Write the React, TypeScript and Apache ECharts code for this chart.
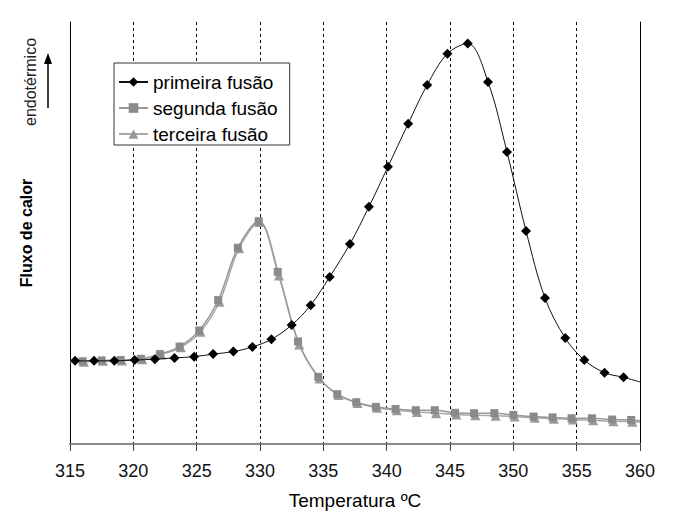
import React, { useEffect, useRef } from "react";
import * as echarts from "echarts";

const xTicks = [315, 320, 325, 330, 335, 340, 345, 350, 355, 360];

const primeiraT = [315.4, 316.9, 318.5, 320.1, 321.7, 323.25, 324.8, 326.3, 327.9, 329.4, 330.9, 332.5, 334.0, 335.5, 337.1, 338.6, 340.1, 341.7, 343.2, 344.8, 346.4, 348.0, 349.5, 351.0, 352.5, 354.1, 355.6, 357.2, 358.7];
const primeiraV = [19.7, 19.7, 19.7, 19.9, 20.1, 20.4, 20.7, 21.3, 21.9, 23.0, 24.8, 28.2, 32.9, 39.6, 47.4, 56.2, 65.7, 75.9, 85.1, 92.5, 94.9, 85.8, 69.2, 50.5, 34.6, 25.1, 19.9, 16.9, 15.8];
const primeiraEnds = [[315, 19.7], [360, 14.7]];

const segundaT = [316.0, 317.5, 319.0, 320.6, 322.1, 323.65, 325.2, 326.7, 328.25, 329.9, 331.4, 333.0, 334.6, 336.1, 337.6, 339.15, 340.7, 342.3, 343.8, 345.4, 346.9, 348.5, 350.0, 351.6, 353.1, 354.6, 356.2, 357.8, 359.3];
const segundaV = [19.6, 19.8, 19.9, 20.2, 21.3, 23.1, 26.9, 34.1, 46.5, 52.8, 40.8, 24.3, 15.9, 11.8, 9.9, 8.8, 8.3, 8.0, 8.0, 7.4, 7.3, 7.3, 6.9, 6.5, 6.3, 6.1, 6.1, 5.8, 5.7];
const segundaEnds = [[315, 19.6], [360, 5.5]];

const terceiraT = [316.1, 317.6, 319.1, 320.7, 322.2, 323.75, 325.3, 326.8, 328.35, 329.95, 331.5, 333.1, 334.7, 336.2, 337.7, 339.25, 340.8, 342.4, 343.9, 345.5, 347.0, 348.6, 350.1, 351.7, 353.2, 354.7, 356.3, 357.9, 359.4];
const terceiraV = [19.5, 19.7, 19.8, 20.1, 21.2, 22.9, 26.6, 33.7, 46.4, 52.6, 39.9, 23.6, 15.5, 11.6, 9.7, 8.6, 8.0, 7.6, 7.3, 7.0, 6.8, 6.7, 6.5, 6.2, 6.0, 5.8, 5.6, 5.4, 5.3];
const terceiraEnds = [[315, 19.5], [360, 5.2]];

const seriesNames = ["primeira fusão", "segunda fusão", "terceira fusão"];
const FONT = "'Liberation Sans', Arial, sans-serif";

function buildData(ts: number[], vs: number[], ends: number[][]) {
  const pts: any[] = [{ value: ends[0], symbol: "none" }];
  ts.forEach((t, i) => pts.push({ value: [t, vs[i]] }));
  pts.push({ value: ends[1], symbol: "none" });
  return pts;
}

export default function App() {
  const ref = useRef<HTMLDivElement>(null);
  useEffect(() => {
    document.body.style.margin = "0";
    const chart = echarts.init(ref.current!, null, { renderer: "svg" });
    chart.setOption({
      animation: false,
      backgroundColor: "#ffffff",
      grid: { left: 70, right: 39, top: 22, bottom: 70 },
      legend: {
        orient: "vertical",
        left: 114,
        top: 63,
        width: 170,
        data: seriesNames,
        backgroundColor: "#ffffff",
        borderColor: "#333",
        borderWidth: 1,
        padding: [9, 12, 1, 4],
        itemGap: 6,
        itemWidth: 29,
        itemHeight: 12,
        textStyle: { fontFamily: FONT, fontSize: 19, color: "#000", lineHeight: 20 },
      },
      xAxis: [
        {
          type: "value",
          min: 315,
          max: 360,
          interval: 5,
          position: "bottom",
          name: "Temperatura ºC",
          nameLocation: "middle",
          nameGap: 47,
          nameTextStyle: { fontFamily: FONT, fontSize: 19, color: "#000" },
          axisLine: { show: true, onZero: false, lineStyle: { color: "#444", width: 1.5 } },
          axisTick: { show: true, length: 7, lineStyle: { color: "#444" } },
          axisLabel: { fontFamily: FONT, fontSize: 18, color: "#111", margin: 18 },
          splitLine: { show: true, lineStyle: { color: "#000", type: [3, 3], width: 1 } },
        },
        {
          type: "value",
          min: 315,
          max: 360,
          position: "top",
          axisLine: { show: true, lineStyle: { color: "#888", width: 2 } },
          axisTick: { show: false },
          axisLabel: { show: false },
          splitLine: { show: false },
        },
      ],
      yAxis: [
        {
          type: "value",
          min: 0,
          max: 100,
          position: "left",
          name: "Fluxo de calor",
          nameLocation: "middle",
          nameRotate: 90,
          nameGap: 36,
          nameTextStyle: { fontFamily: FONT, fontSize: 16, fontWeight: "bold", color: "#000" },
          axisLine: { show: true, lineStyle: { color: "#000", width: 1 } },
          axisTick: { show: false },
          axisLabel: { show: false },
          splitLine: { show: false },
        },
        {
          type: "value",
          min: 0,
          max: 100,
          position: "right",
          axisLine: { show: true, lineStyle: { color: "#000", width: 1 } },
          axisTick: { show: false },
          axisLabel: { show: false },
          splitLine: { show: false },
        },
      ],
      graphic: [
        {
          type: "text",
          x: 30,
          y: 82,
          rotation: Math.PI / 2,
          style: {
            text: "endotérmico",
            fontFamily: FONT,
            fontSize: 16,
            fill: "#222",
            align: "center",
            verticalAlign: "middle",
          },
        },
        {
          type: "line",
          shape: { x1: 48, y1: 108, x2: 48, y2: 62 },
          style: { stroke: "#000", lineWidth: 1.5 },
        },
        {
          type: "polygon",
          shape: { points: [[48, 53], [44, 64], [52, 64]] },
          style: { fill: "#000" },
        },
      ],
      series: [
        {
          name: seriesNames[2],
          type: "line",
          smooth: 0.35,
          symbol: "triangle",
          symbolSize: 10,
          z: 2,
          itemStyle: { color: "#9a9a9a" },
          lineStyle: { color: "#a8a8a8", width: 1.5 },
          data: buildData(terceiraT, terceiraV, terceiraEnds),
        },
        {
          name: seriesNames[1],
          type: "line",
          smooth: 0.35,
          symbol: "rect",
          symbolSize: 8,
          z: 3,
          itemStyle: { color: "#8a8a8a" },
          lineStyle: { color: "#9a9a9a", width: 1.5 },
          data: buildData(segundaT, segundaV, segundaEnds),
        },
        {
          name: seriesNames[0],
          type: "line",
          smooth: 0.35,
          symbol: "diamond",
          symbolSize: 10,
          z: 4,
          itemStyle: { color: "#000" },
          lineStyle: { color: "#111", width: 1 },
          data: buildData(primeiraT, primeiraV, primeiraEnds),
        },
      ],
    });
    return () => chart.dispose();
  }, []);
  return <div ref={ref} style={{ width: 679, height: 515 }} />;
}
